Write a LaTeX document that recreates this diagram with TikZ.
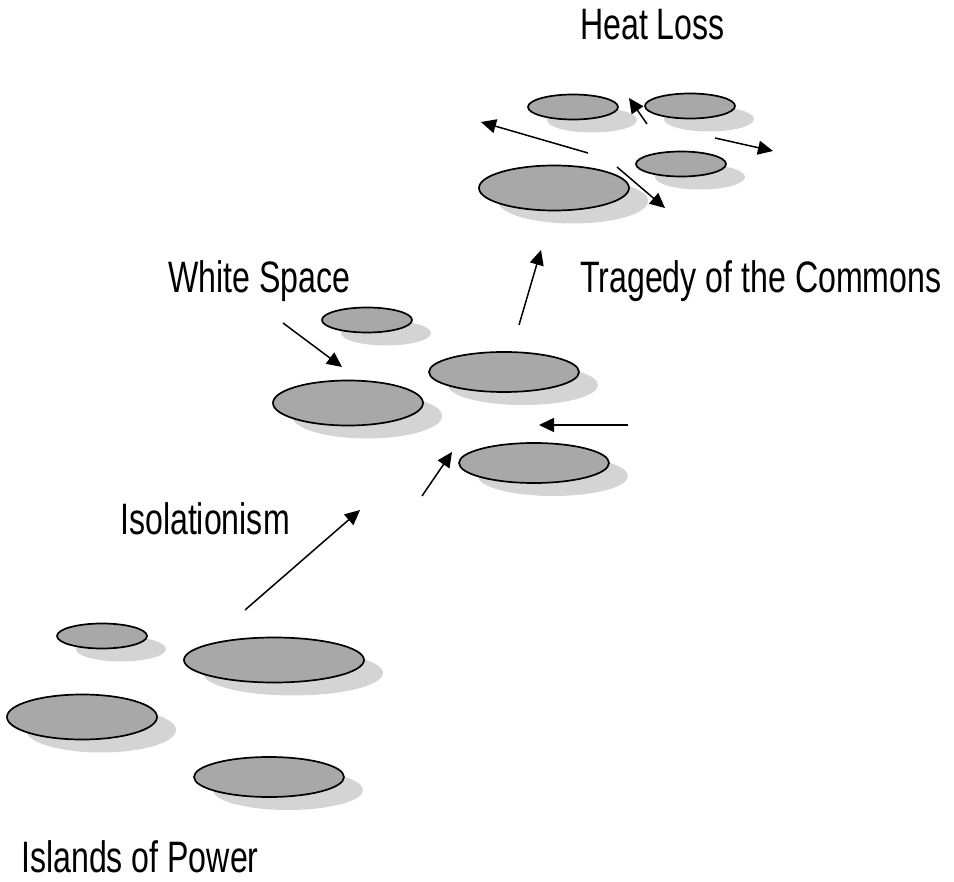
\documentclass[tikz,border=0pt]{standalone}
\usepackage{fontspec}
\setmainfont{Liberation Sans}[FakeStretch=0.73]
\usetikzlibrary{arrows.meta,shapes.geometric,shadows}
\definecolor{islandgray}{gray}{0.66}
\definecolor{shadowgray}{gray}{0.83}

\begin{document}
\begin{tikzpicture}[
    x=1pt, y=-1pt,
    island/.style={
        ellipse, draw=black, line width=1.7pt, fill=islandgray, inner sep=0pt,
        drop shadow={shadow xshift=19pt, shadow yshift=-13pt,
            fill=shadowgray, opacity=1}
    },
    smallisle/.style={island, minimum width=90pt, minimum height=25pt},
    bigisle/.style={island, minimum width=150pt, minimum height=45pt},
    flatisle/.style={island, minimum width=150pt, minimum height=40pt},
    heading/.style={font=\fontsize{44}{50}\selectfont, inner sep=0pt, anchor=base west},
    arrow/.style={-{Triangle[length=15pt,width=14pt]}, line width=1.5pt}
]
\useasboundingbox (0,0) rectangle (954,882);

% islands of power
\node[smallisle] (p1) at (102,636) {};
\node[island, minimum width=180pt, minimum height=45pt] (p2) at (274,660) {};
\node[bigisle] (p3) at (82,717) {};
\node[flatisle] (p4) at (269,777) {};

% white space
\node[smallisle] (w1) at (367,320) {};
\node[flatisle] (w2) at (504,372) {};
\node[bigisle] (w3) at (348,403) {};
\node[flatisle] (w4) at (534,463) {};

% heat loss
\node[smallisle] (h1) at (573,107) {};
\node[smallisle] (h2) at (690,106) {};
\node[smallisle] (h3) at (681,164) {};
\node[bigisle] (h4) at (554,188) {};

% labels
\node[heading] (heat) at (580,40) {Heat Loss};
\node[heading] (white) at (168,293) {White Space};
\node[heading] (tragedy) at (580,293) {Tragedy of the Commons};
\node[heading] (isol) at (120,535) {Isolationism};
\node[heading] (power) at (21,872) {Islands of Power};

% arrow ends
\coordinate (a1) at (245,610);
\coordinate (a2) at (360,510);
\coordinate (b1) at (422,496);
\coordinate (b2) at (452,452);
\coordinate (c1) at (628,425);
\coordinate (c2) at (539,425);
\coordinate (d1) at (283,323);
\coordinate (d2) at (342,367);
\coordinate (e1) at (519,325);
\coordinate (e2) at (541,250);
\coordinate (f1) at (588,153);
\coordinate (f2) at (481,122);
\coordinate (g1) at (647,124);
\coordinate (g2) at (629,98);
\coordinate (k1) at (715,138);
\coordinate (k2) at (773,151);
\coordinate (m1) at (617,167);
\coordinate (m2) at (665,208);

\foreach \s/\t in {a1/a2, b1/b2, c1/c2, d1/d2, e1/e2, f1/f2, g1/g2, k1/k2, m1/m2}
    \draw[arrow] (\s) -- (\t);

\end{tikzpicture}
\end{document}
